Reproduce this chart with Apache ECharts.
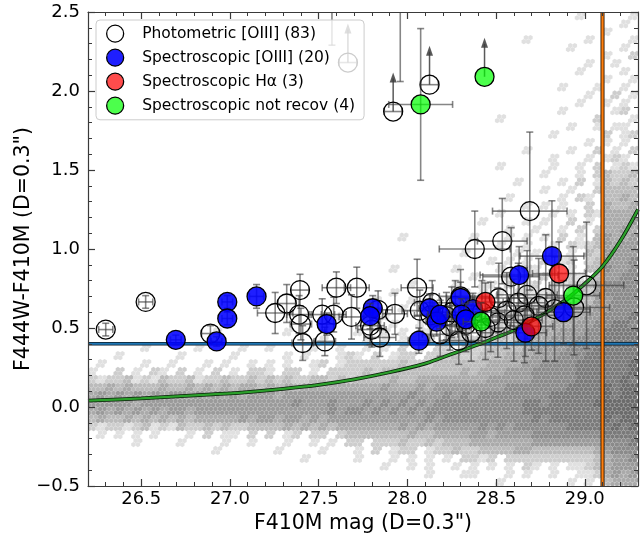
<!DOCTYPE html>
<html>
<head>
<meta charset="utf-8">
<script src="https://cdn.jsdelivr.net/npm/echarts@6/dist/echarts.min.js"></script>
<style>
  html, body { margin: 0; padding: 0; background: #fff; }
  #chart { width: 644px; height: 533px; }
</style>
</head>
<body>
<div id="chart"></div>
<script>
// ---- data ---------------------------------------------------------------

// Major tick values of the magnitude axis
const xMajorTicks = [26.5, 27.0, 27.5, 28.0, 28.5, 29.0];

// Photometric [OIII] candidates: [F410M mag, colour, mag error, colour error]
const photometric = [
  [26.30, 0.49, 0.04, 0.04], [26.525, 0.665, 0.04, 0.04], [26.89, 0.465, 0.05, 0.05],
  [27.255, 0.595, 0.10, 0.13], [27.32, 0.655, 0.05, 0.12], [27.395, 0.74, 0.05, 0.10],
  [27.39, 0.585, 0.07, 0.12], [27.40, 0.525, 0.06, 0.10], [27.41, 0.405, 0.06, 0.11],
  [27.52, 0.585, 0.07, 0.10], [27.535, 0.415, 0.06, 0.09], [27.585, 0.585, 0.07, 0.11],
  [27.60, 0.755, 0.08, 0.10], [27.715, 0.755, 0.07, 0.13], [27.685, 0.57, 0.07, 0.14],
  [27.835, 0.615, 0.08, 0.12], [27.79, 0.515, 0.08, 0.12], [27.80, 0.49, 0.08, 0.11],
  [27.845, 0.44, 0.09, 0.12], [27.93, 0.59, 0.07, 0.13], [28.055, 0.755, 0.09, 0.18],
  [28.07, 0.61, 0.10, 0.13], [28.14, 0.66, 0.10, 0.14], [28.13, 0.58, 0.09, 0.13],
  [28.185, 0.46, 0.10, 0.14], [28.22, 0.575, 0.11, 0.15], [28.24, 0.51, 0.11, 0.15],
  [28.25, 0.60, 0.12, 0.16], [28.29, 0.42, 0.11, 0.15], [28.30, 0.70, 0.12, 0.17],
  [28.27, 0.64, 0.12, 0.16], [28.33, 0.52, 0.12, 0.17], [28.38, 1.00, 0.20, 0.24],
  [28.535, 1.05, 0.14, 0.27], [28.69, 1.24, 0.21, 0.50], [28.585, 0.825, 0.16, 0.31],
  [28.515, 0.69, 0.15, 0.22], [28.675, 0.71, 0.17, 0.28], [28.625, 0.66, 0.15, 0.25],
  [28.56, 0.61, 0.15, 0.24], [28.78, 0.69, 0.20, 0.40], [28.74, 0.64, 0.18, 0.30],
  [28.51, 0.535, 0.14, 0.22], [28.44, 0.50, 0.14, 0.20], [28.42, 0.60, 0.13, 0.20],
  [28.47, 0.57, 0.14, 0.22], [28.94, 0.63, 0.20, 0.30], [29.01, 0.77, 0.21, 0.40],
  [28.60, 0.55, 0.16, 0.26], [28.36, 0.47, 0.12, 0.18], [28.83, 0.62, 0.20, 0.33],
  [28.66, 0.58, 0.18, 0.30],
  [27.575, 2.75, 0.09, 0.46], [27.96, 2.80, 0.10, 0.74]
];
// Photometric lower limits on colour: [mag, colour, mag error]
const photometricLimits = [[27.92, 1.87, 0.05], [28.125, 2.04, 0.05], [27.665, 2.18, 0.05]];

// Spectroscopic [OIII] confirmations
const specOIII = [
  [26.695, 0.425, 0.03, 0.03], [26.925, 0.415, 0.03, 0.03], [26.985, 0.665, 0.03, 0.04],
  [26.985, 0.56, 0.03, 0.04], [27.15, 0.70, 0.04, 0.075], [27.545, 0.525, 0.05, 0.07],
  [27.805, 0.625, 0.05, 0.08], [27.79, 0.575, 0.05, 0.08], [28.065, 0.42, 0.06, 0.08],
  [28.125, 0.625, 0.06, 0.09], [28.165, 0.54, 0.06, 0.09], [28.185, 0.585, 0.07, 0.09],
  [28.30, 0.69, 0.08, 0.10], [28.37, 0.62, 0.08, 0.10], [28.305, 0.585, 0.08, 0.10],
  [28.33, 0.555, 0.08, 0.10], [28.63, 0.835, 0.22, 0.18], [28.815, 0.955, 0.18, 0.35],
  [28.88, 0.60, 0.15, 0.20], [28.665, 0.47, 0.12, 0.15]
];
// Spectroscopic H-alpha emitters
const specHa = [[28.44, 0.665, 0.10, 0.12], [28.70, 0.51, 0.12, 0.15], [28.855, 0.845, 0.15, 0.20]];
// Spectroscopic sources not recovered by the selection
const specNotRecov = [[28.075, 1.915, 0.18, 0.48], [28.415, 0.54, 0.10, 0.12], [28.935, 0.705, 0.15, 0.31]];
const specNotRecovLimits = [[28.435, 2.09, 0]];

// Colour cut, magnitude limit and colour-error envelope
const colourCut = 0.4;
const magLimit = 29.1;
const envelopeMag = [26.2, 26.5, 26.9, 27.05, 27.3, 27.5, 27.7, 27.9, 28.1, 28.2, 28.3, 28.4, 28.5, 28.6, 28.7, 28.8, 28.9, 29.0, 29.1, 29.2, 29.3];
const envelopeCol = [0.040, 0.055, 0.080, 0.090, 0.115, 0.140, 0.175, 0.220, 0.275, 0.315, 0.355, 0.395, 0.440, 0.485, 0.545, 0.610, 0.685, 0.780, 0.890, 1.050, 1.250];

// Background source density (0.05 mag x 0.05 colour bins, top row = colour 2.5,
// first column = mag 26.2); '.' empty, 1..9 increasing density
const hexRows = [
  "..........|..........|..........|..........|..........|.....1....|.1",
  "..........|..........|..........|..........|..........|..........|1.",
  "..........|..........|..........|..........|..........|........1.|..",
  "..........|..........|..........|..........|.........1|......1...|.1",
  "..........|..........|..........|..........|..........|....1.....|1.",
  "..........|..........|..........|..........|..........|........1.|.2",
  "..........|..........|..........|..........|..........|......1..1|..",
  "..........|..........|..........|..........|..........|.....1....|1.",
  "..........|..........|..........|..........|..........|........1.|.1",
  "..........|..........|..........|..........|..........|...1...1..|1.",
  "..........|..........|..........|..........|..........|......1..2|.1",
  "..........|..........|..........|..........|..........|.....1..1.|1.",
  "..........|..........|..........|..........|..........|...1.....1|2.",
  "..........|..........|..........|..........|......1...|.......2..|.1",
  "..........|..........|..........|..........|..........|....1..1.1|1.",
  "..........|..........|..........|..........|..........|..1.....2.|12",
  "..........|..........|..........|..........|..........|......1.1.|1.",
  "..........|..........|..........|..........|.........1|....1..2.1|.2",
  "..........|..........|..........|..........|..........|..1...1.12|1.",
  "..........|..........|..........|..........|......1...|..1..1.2.1|21",
  "..........|..........|..........|..........|..........|.1...1.232|23",
  "..........|..........|..........|..........|........1.|...1.2.132|32",
  "..........|..........|..........|..........|..........|.1..1..233|33",
  "..........|..........|..........|..........|.......1..|...1.21.33|43",
  "..........|..........|..........|..........|.........1|.1.1..2.43|34",
  "..........|..........|..........|..........|......1...|..1.1.2144|44",
  "..........|..........|..........|..........|....1....1|.1..2.1.44|45",
  "..........|..........|..........|..........|.......1..|1..1.2.244|54",
  "..........|..........|..........|.....1....|...1...1.1|.1.2.1.354|45",
  "..........|..........|..........|..........|......1..1|..1.212354|55",
  "..........|..........|..........|..........|..1.....1.|1.2.1.3255|55",
  "..........|..........|..........|..........|.....1.1.1|.2.12.2355|56",
  "..........|..........|..........|....1.....|.1....1..2|1.2.1.3365|56",
  "..........|..........|..........|..........|...1...1.1|.2.121.355|66",
  "..........|..........|..........|......1...|.1..11.2.1|2.21223566|66",
  "..........|..........|..........|....1.....|..1.1.1.12|112.232566|66",
  "..........|..........|..........|..1...1...|..1.11.1.2|2122233556|66",
  "..........|..........|..........|.1...1..1.|1.1.1.2.12|2222334556|66",
  "..........|..........|........1.|...1....1.|1.1.2.1222|3334445566|67",
  "..........|..........|..........|..1.1..1.1|.1.21.2122|3344455667|76",
  "..........|....1.....|..1.......|1..1.1.11.|1.2.122223|4445556677|77",
  "..........|..........|......1...|.1.1.11.2.|2212223233|4455566677|77",
  "......1...|..1....1..|1....1..1.|.1.1.2.1.2|2.22233334|5555666777|77",
  "...1......|1.....1...|..1.1...12|1.2.122.22|2322333444|5556667777|77",
  ".1....1..1|...1.1..1.|1.1..12.12|2222232223|3333344445|5666677777|78",
  "1..2.1.21.|2.1.2.1.22|1.22.1.222|2323333333|3343444555|6666677777|78",
  "2122312132|2312232232|3232233232|3333433444|4444455555|6666677777|87",
  "3343433343|3434343443|4343444444|4445444545|5555555666|6666777787|88",
  "4545454545|5454545455|5455555555|5555556555|6565666666|6677777787|88",
  "5555545555|5555555555|5556555655|5656565656|6666666667|7677777888|88",
  "4545454545|5455555555|5555555656|6565656566|6666666667|7777777788|88",
  "3433434343|4344444545|5455454555|5555555565|6666666666|7677777787|88",
  "2122123121|3223232233|3343434344|4444454545|5555656566|6666777778|78",
  ".1.1.1.1..|.1.2.11.2.|2.12.22.23|3333334334|4445545555|6666666677|77",
  ".....1....|1....1..1.|..1..1.1.2|2.22232232|3334444444|5555555566|67",
  "..........|....1.....|.1....1...|1.2.122.12|2322333344|3333333456|66",
  "..........|..........|....1.....|1...1.1.1.|1.2212.222|2222222345|56",
  "..........|..........|..........|...1..1.1.|.1.1.1.1.2|1.1.112345|55",
  "..........|..........|..........|........1.|..11...1.1|..1..11245|45",
  "..........|..........|..........|..........|......1...|....1.1.34|44"
];

// ---- helpers ------------------------------------------------------------

const BIN = 0.05;          // density bin width (mag and colour)
const SUB = BIN / 2;       // hexagon spacing inside a bin
const GREYS = ['', '#e0e0e0', '#cdcdcd', '#bbbbbb', '#aaaaaa', '#9a9a9a', '#8a8a8a', '#7a7a7a', '#6b6b6b', '#5d5d5d'];
const FONT = 'DejaVu Sans';
const AXIS_COLOR = '#3a3a3a';
const ERR_COLOR = 'rgba(60,60,60,0.62)';
const ARROW_COLOR = 'rgba(60,60,60,0.85)';

const hexData = [];
hexRows.forEach(function (row, r) {
  const cells = row.replace(/\|/g, '');
  for (let c = 0; c < cells.length; c++) {
    const ch = cells[c];
    if (ch === '.') continue;
    hexData.push([26.2 + BIN * c, 2.5 - BIN * (r + 1), Number(ch)]);
  }
});

function renderHexBin(params, api) {
  const m0 = api.value(0), c0 = api.value(1), lvl = api.value(2);
  const sz = api.size([SUB, SUB]);
  const R = sz[1] * 2 / 3;
  const hw = R * Math.sqrt(3) / 2;
  const kids = [];
  for (let j = 0; j < 2; j++) {
    for (let i = 0; i < 2; i++) {
      const shift = j ? SUB / 4 : -SUB / 4;
      const p = api.coord([m0 + SUB * (i + 0.5) + shift, c0 + SUB * (j + 0.5)]);
      kids.push({
        type: 'polygon',
        shape: { points: [
          [p[0], p[1] - R], [p[0] + hw, p[1] - R / 2], [p[0] + hw, p[1] + R / 2],
          [p[0], p[1] + R], [p[0] - hw, p[1] + R / 2], [p[0] - hw, p[1] - R / 2]
        ] },
        style: { fill: GREYS[lvl], stroke: 'rgba(255,255,255,0.16)', lineWidth: 0.6 }
      });
    }
  }
  return { type: 'group', children: kids };
}

function seg(x1, y1, x2, y2, style) {
  return { type: 'line', shape: { x1: x1, y1: y1, x2: x2, y2: y2 }, style: style };
}

function makePointRenderer(fill) {
  return function (params, api) {
    const m = api.value(0), c = api.value(1), xe = api.value(2), ye = api.value(3), lim = api.value(4);
    const p = api.coord([m, c]);
    const bar = { stroke: ERR_COLOR, lineWidth: 1.6 };
    const cap = 3.5;
    const kids = [];
    if (xe > 0) {
      const a = api.coord([m - xe, c]), b = api.coord([m + xe, c]);
      kids.push(seg(a[0], p[1], b[0], p[1], bar));
      kids.push(seg(a[0], p[1] - cap, a[0], p[1] + cap, bar));
      kids.push(seg(b[0], p[1] - cap, b[0], p[1] + cap, bar));
    }
    if (lim) {
      const tip = p[1] - 39;
      const arrow = { stroke: ARROW_COLOR, lineWidth: 1.5 };
      kids.push(seg(p[0], p[1], p[0], tip + 6, arrow));
      kids.push({ type: 'polygon', shape: { points: [[p[0], tip], [p[0] - 3.5, tip + 10], [p[0] + 3.5, tip + 10]] },
                  style: { fill: ARROW_COLOR } });
    } else if (ye > 0) {
      const t = api.coord([m, c + ye]), b = api.coord([m, c - ye]);
      kids.push(seg(p[0], t[1], p[0], b[1], bar));
      kids.push(seg(p[0] - cap, t[1], p[0] + cap, t[1], bar));
      kids.push(seg(p[0] - cap, b[1], p[0] + cap, b[1], bar));
    }
    kids.push({ type: 'circle', shape: { cx: p[0], cy: p[1], r: 9.5 },
                style: { fill: fill, stroke: '#000', lineWidth: 1.3 } });
    return { type: 'group', children: kids };
  };
}

function withLimits(points, limits) {
  return points.map(function (d) { return [d[0], d[1], d[2], d[3], 0]; })
    .concat(limits.map(function (d) { return [d[0], d[1], d[2], 0, 1]; }));
}

function pointSeries(name, fill, data) {
  return {
    name: name, type: 'custom', renderItem: makePointRenderer(fill), data: data,
    xAxisIndex: 0, yAxisIndex: 0, clip: true, z: 4, silent: true, animation: false
  };
}

function lineSeries(data, color, width, z) {
  return {
    type: 'line', data: data, symbol: 'none', xAxisIndex: 0, yAxisIndex: 0,
    lineStyle: { color: color, width: width }, z: z, silent: true, animation: false
  };
}

const envelope = envelopeMag.map(function (m, i) { return [m, envelopeCol[i]]; });
const cutLine = [[26.2, colourCut], [29.3, colourCut]];
const limLine = [[magLimit, -0.5], [magLimit, 2.5]];

const NAMES = ['Photometric [OIII] (83)', 'Spectroscopic [OIII] (20)', 'Spectroscopic H\u03b1 (3)', 'Spectroscopic not recov (4)'];
const FILLS = ['rgba(0,0,0,0)', 'rgba(0,0,255,0.88)', 'rgba(255,0,0,0.7)', 'rgba(0,255,0,0.7)'];

const fmt = function (v) { return v.toFixed(1).replace('-', '\u2212'); };
const tickStyle = { color: AXIS_COLOR, width: 1.2 };
const xMinor = [];
for (let k = 0; k <= 31; k++) xMinor.push(+(26.2 + 0.1 * k).toFixed(1));

function xAxisDef(grid, pos, major, labels) {
  return {
    type: 'value', gridIndex: grid, position: pos, min: 26.2, max: 29.3,
    interval: 0.1,
    axisLine: { show: grid === 0, onZero: false, lineStyle: { color: AXIS_COLOR, width: 1.2 } },
    axisTick: major
      ? { show: true, inside: true, length: 7, lineStyle: tickStyle, customValues: xMajorTicks }
      : { show: true, inside: true, length: 4, lineStyle: { color: AXIS_COLOR, width: 1 }, customValues: xMinor },
    axisLabel: labels
      ? { show: true, customValues: xMajorTicks, fontSize: 18, fontFamily: FONT, color: '#000', margin: 4, formatter: fmt }
      : { show: false },
    splitLine: { show: false },
    z: 6
  };
}

function yAxisDef(grid, pos, labels) {
  return {
    type: 'value', gridIndex: grid, position: pos, min: -0.5, max: 2.5, interval: 0.5,
    show: grid === 0,
    axisLine: { show: true, onZero: false, lineStyle: { color: AXIS_COLOR, width: 1.2 } },
    axisTick: { show: true, inside: true, length: 7, lineStyle: tickStyle },
    minorTick: { show: true, splitNumber: 5, length: 4, lineStyle: { color: AXIS_COLOR, width: 1 } },
    axisLabel: labels
      ? { show: true, fontSize: 18, fontFamily: FONT, color: '#000', margin: 8, formatter: fmt }
      : { show: false },
    splitLine: { show: false }, minorSplitLine: { show: false },
    z: 6
  };
}

const xAxes = [xAxisDef(0, 'bottom', false, true), xAxisDef(0, 'top', false, false),
               xAxisDef(1, 'bottom', true, false), xAxisDef(1, 'top', true, false)];
xAxes[0].name = 'F410M mag (D=0.3")';
xAxes[0].nameLocation = 'middle';
xAxes[0].nameGap = 22;
xAxes[0].nameTextStyle = { fontSize: 20.5, fontFamily: FONT, color: '#000' };

const yAxes = [yAxisDef(0, 'left', true), yAxisDef(0, 'right', false),
               yAxisDef(1, 'left', false), yAxisDef(1, 'right', false)];
yAxes[0].name = 'F444W-F410M (D=0.3")';
yAxes[0].nameLocation = 'middle';
yAxes[0].nameGap = 54;
yAxes[0].nameMoveOverlap = false;
yAxes[0].nameTextStyle = { fontSize: 20.5, fontFamily: FONT, color: '#000' };

const chart = echarts.init(document.getElementById('chart'), null, { renderer: 'canvas' });
chart.setOption({
  animation: false,
  backgroundColor: '#fff',
  grid: [
    { left: 88, top: 12, width: 550, height: 474, containLabel: false, outerBoundsMode: 'none' },
    { left: 88, top: 12, width: 550, height: 474, containLabel: false, outerBoundsMode: 'none' }
  ],
  xAxis: xAxes,
  yAxis: yAxes,
  legend: {
    left: 96, top: 20, orient: 'vertical',
    itemWidth: 44, itemHeight: 17, itemGap: 5.7,
    padding: [4.5, 9, 5, 10],
    backgroundColor: 'rgba(255,255,255,0.8)',
    borderColor: '#cccccc', borderWidth: 1, borderRadius: 4,
    textStyle: { fontSize: 15.5, fontFamily: FONT, color: '#000' },
    selectedMode: false,
    z: 10,
    data: NAMES.map(function (n, i) {
      return { name: n, icon: 'circle',
               itemStyle: { color: FILLS[i], borderColor: '#000', borderWidth: 1.3 } };
    })
  },
  series: [
    { type: 'custom', renderItem: renderHexBin, data: hexData, xAxisIndex: 0, yAxisIndex: 0,
      clip: true, z: 1, silent: true, animation: false, progressive: 0 },
    lineSeries(cutLine, '#0d1b26', 3.6, 2),
    lineSeries(cutLine, '#1f77b4', 2, 2),
    lineSeries(limLine, '#2a1500', 4, 2),
    lineSeries(limLine, '#ff7f0e', 2.2, 2),
    Object.assign(lineSeries(envelope, '#0b200b', 3.8, 3), { smooth: 0.35 }),
    Object.assign(lineSeries(envelope, '#2ca02c', 2.2, 3), { smooth: 0.35 }),
    pointSeries(NAMES[0], FILLS[0], withLimits(photometric, photometricLimits)),
    pointSeries(NAMES[1], FILLS[1], withLimits(specOIII, [])),
    pointSeries(NAMES[2], FILLS[2], withLimits(specHa, [])),
    pointSeries(NAMES[3], FILLS[3], withLimits(specNotRecov, specNotRecovLimits))
  ]
});
</script>
</body>
</html>
